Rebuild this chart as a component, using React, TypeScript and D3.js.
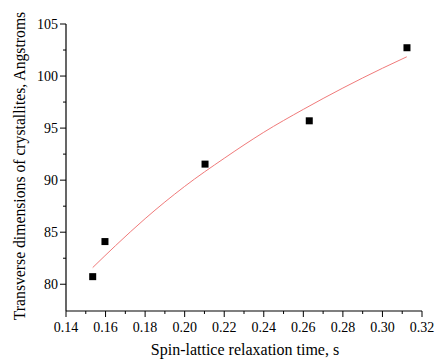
import React from "react";
import * as d3 from "d3";

const pointX = [0.1535, 0.1597, 0.2103, 0.263, 0.3124];
const pointY = [80.73, 84.1, 91.54, 95.7, 102.72];

const fitX = [0.1535, 0.165, 0.18, 0.2, 0.22, 0.24, 0.26, 0.28, 0.3, 0.3123];
const fitY = [81.6, 83.7, 86.3, 89.4, 92.1, 94.6, 96.8, 98.85, 100.75, 101.85];

const xTicks = [0.14, 0.16, 0.18, 0.2, 0.22, 0.24, 0.26, 0.28, 0.3, 0.32];
const yTicks = [80, 85, 90, 95, 100, 105];
const xMinor = [0.15, 0.17, 0.19, 0.21, 0.23, 0.25, 0.27, 0.29, 0.31];
const yMinor = [82.5, 87.5, 92.5, 97.5, 102.5];

const xTitle = "Spin-lattice relaxation time, s";
const yTitle = "Transverse dimensions of crystallites, Angstroms";

export default function App() {
  const W = 440, H = 361;
  const left = 66, right = 422, top = 24, bottom = 311;
  const x = d3.scaleLinear().domain([0.14, 0.32]).range([left, right]);
  const y = d3.scaleLinear().domain([77.43, 105]).range([bottom, top]);
  const line = d3
    .line<number>()
    .x((_, i) => x(fitX[i]))
    .y((d) => y(d))
    .curve(d3.curveMonotoneX);
  const font = "'Liberation Serif', 'Times New Roman', serif";
  return (
    <svg
      width={W}
      height={H}
      style={{ position: "absolute", left: 0, top: 0, background: "#fff" }}
      fontFamily={font}
    >
      <rect width={W} height={H} fill="#fff" />
      <path d={line(fitY) || ""} fill="none" stroke="#f07a7a" strokeWidth={1} />
      {pointX.map((px, i) => (
        <rect
          key={i}
          x={x(px) - 3.5}
          y={y(pointY[i]) - 3.5}
          width={7}
          height={7}
          fill="#000"
        />
      ))}
      <line x1={left} x2={left} y1={top} y2={bottom} stroke="#000" strokeWidth={1.2} />
      <line x1={left} x2={right} y1={bottom} y2={bottom} stroke="#000" strokeWidth={1.2} />
      {xTicks.map((t) => (
        <g key={"xt" + t}>
          <line x1={x(t)} x2={x(t)} y1={bottom} y2={bottom + 6} stroke="#000" strokeWidth={1} />
          <text x={x(t)} y={bottom + 21} fontSize={14} textAnchor="middle" fill="#000">
            {t.toFixed(2)}
          </text>
        </g>
      ))}
      {xMinor.map((t) => (
        <line key={"xm" + t} x1={x(t)} x2={x(t)} y1={bottom} y2={bottom + 3} stroke="#000" strokeWidth={1} />
      ))}
      {yTicks.map((t) => (
        <g key={"yt" + t}>
          <line x1={left - 6} x2={left} y1={y(t)} y2={y(t)} stroke="#000" strokeWidth={1} />
          <text x={left - 8} y={y(t) + 5} fontSize={14} textAnchor="end" fill="#000">
            {t}
          </text>
        </g>
      ))}
      {yMinor.map((t) => (
        <line key={"ym" + t} x1={left - 3} x2={left} y1={y(t)} y2={y(t)} stroke="#000" strokeWidth={1} />
      ))}
      <text x={245} y={355} fontSize={16} textAnchor="middle" fill="#000">
        {xTitle}
      </text>
      <text
        transform={`translate(25, 166) rotate(-90)`}
        fontSize={15.7}
        textAnchor="middle"
        fill="#000"
      >
        {yTitle}
      </text>
    </svg>
  );
}
